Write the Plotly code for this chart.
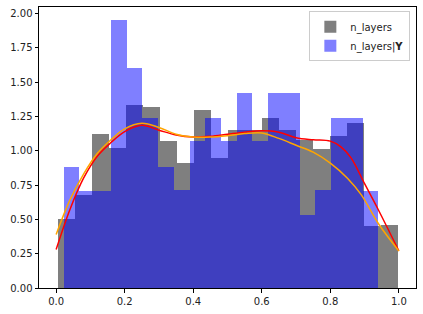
import numpy as np
import plotly.graph_objects as go

# Histogram (density) values
grey_heights = [0.50, 0.68, 1.12, 1.02, 1.33, 1.32, 1.07, 0.91, 1.30, 0.95,
                1.15, 1.15, 1.24, 1.15, 1.08, 1.01, 1.11, 1.20, 0.45, 0.46]
grey_range = [0.0064, 0.998]

blue_heights = [0.885, 0.71, 0.71, 1.95, 1.60, 1.24, 0.885, 0.715, 1.07, 1.24,
                1.07, 1.42, 1.07, 1.42, 1.42, 0.53, 0.715, 1.24, 1.24, 0.71]
blue_range = [0.022, 0.940]

# KDE curves
red_x = [0.0, 0.04, 0.08, 0.12, 0.16, 0.20, 0.25, 0.30, 0.35, 0.40, 0.45, 0.50,
         0.55, 0.60, 0.65, 0.70, 0.75, 0.80, 0.83, 0.86, 0.90, 0.94, 1.00]
red_y = [0.28, 0.57, 0.80, 0.96, 1.06, 1.14, 1.185, 1.15, 1.115, 1.10, 1.105, 1.12,
         1.135, 1.145, 1.135, 1.095, 1.08, 1.07, 1.03, 0.95, 0.76, 0.57, 0.27]
orange_x = [0.0, 0.04, 0.08, 0.12, 0.16, 0.20, 0.25, 0.30, 0.35, 0.40, 0.45, 0.50,
            0.55, 0.60, 0.65, 0.70, 0.75, 0.80, 0.85, 0.89, 0.94, 1.00]
orange_y = [0.39, 0.64, 0.83, 0.98, 1.08, 1.16, 1.20, 1.17, 1.12, 1.10, 1.10, 1.11,
            1.125, 1.13, 1.09, 1.04, 0.99, 0.91, 0.80, 0.68, 0.47, 0.27]

x_ticks = [0.0, 0.2, 0.4, 0.6, 0.8, 1.0]
x_tick_labels = ["0.0", "0.2", "0.4", "0.6", "0.8", "1.0"]
y_ticks = [0.0, 0.25, 0.5, 0.75, 1.0, 1.25, 1.5, 1.75, 2.0]
y_tick_labels = ["0.00", "0.25", "0.50", "0.75", "1.00", "1.25", "1.50", "1.75", "2.00"]

grey_edges = np.linspace(grey_range[0], grey_range[1], len(grey_heights) + 1)
blue_edges = np.linspace(blue_range[0], blue_range[1], len(blue_heights) + 1)

fig = go.Figure()
fig.add_trace(go.Bar(
    x=(grey_edges[:-1] + grey_edges[1:]) / 2, y=grey_heights,
    width=np.diff(grey_edges), marker=dict(color="rgba(0,0,0,0.5)", line=dict(width=0)),
    name="n_layers"))
fig.add_trace(go.Bar(
    x=(blue_edges[:-1] + blue_edges[1:]) / 2, y=blue_heights,
    width=np.diff(blue_edges), marker=dict(color="rgba(0,0,255,0.5)", line=dict(width=0)),
    name="n_layers|<b>Y</b>"))
fig.add_trace(go.Scatter(x=red_x, y=red_y, mode="lines", line=dict(color="red", width=1.5, shape="spline"),
                         showlegend=False))
fig.add_trace(go.Scatter(x=orange_x, y=orange_y, mode="lines", line=dict(color="orange", width=1.5, shape="spline"),
                         showlegend=False))

axis_common = dict(showline=True, mirror=True, linecolor="black", linewidth=1, ticks="outside",
                   ticklen=3.5, tickcolor="black", tickwidth=0.8, showgrid=False, zeroline=False,
                   tickfont=dict(family="DejaVu Sans", size=10, color="#222"))
fig.update_layout(
    width=423, height=314, margin=dict(l=39, r=7, t=7, b=26),
    plot_bgcolor="white", paper_bgcolor="white",
    barmode="overlay", bargap=0,
    xaxis=dict(range=[-0.05, 1.05], tickvals=x_ticks, ticktext=x_tick_labels, **axis_common),
    yaxis=dict(range=[0, 2.0475], tickvals=y_ticks, ticktext=y_tick_labels, **axis_common),
    legend=dict(x=0.985, y=0.985, xanchor="right", yanchor="top", bgcolor="rgba(255,255,255,0.8)",
                bordercolor="#cccccc", borderwidth=1, font=dict(family="DejaVu Sans", size=10, color="#222"),
                tracegroupgap=0, itemwidth=30),
    font=dict(family="DejaVu Sans"),
)
fig.write_html("out.html")
